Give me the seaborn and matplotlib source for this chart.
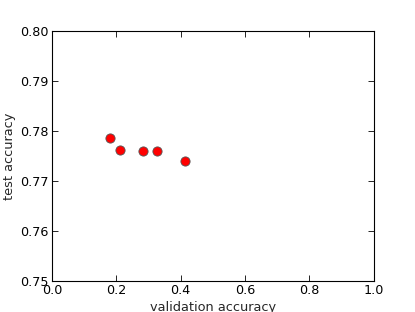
import matplotlib
matplotlib.use("Agg")
import matplotlib.pyplot as plt
import seaborn as sns
import pandas as pd

# Values
val_acc = [0.180, 0.211, 0.282, 0.328, 0.415]
test_acc = [0.7787, 0.7763, 0.7760, 0.7760, 0.7740]

df = pd.DataFrame({"validation accuracy": val_acc, "test accuracy": test_acc})

sns.set_style("white")
plt.rcParams["font.family"] = ["DejaVu Sans"]

fig = plt.figure(figsize=(4.15, 3.12), dpi=100)
ax = fig.add_axes([0.125, 0.1, 0.775, 0.8])

sns.scatterplot(data=df, x="validation accuracy", y="test accuracy", ax=ax,
                color="red", edgecolor="#555555", linewidth=0.6, s=44, zorder=3)

ax.set_xlim(0, 1)
ax.set_ylim(0.75, 0.80)
ax.set_xticks([0.0, 0.2, 0.4, 0.6, 0.8, 1.0])
ax.set_yticks([0.75, 0.76, 0.77, 0.78, 0.79, 0.80])
ax.set_xticklabels(["0.0", "0.2", "0.4", "0.6", "0.8", "1.0"])
ax.set_yticklabels(["0.75", "0.76", "0.77", "0.78", "0.79", "0.80"])
ax.tick_params(direction="in", length=4, width=0.6, top=True, right=True,
               bottom=True, left=True, labelsize=9.2, pad=2.2, colors="black")
for sp in ax.spines.values():
    sp.set_color("black")
    sp.set_linewidth(0.8)
ax.set_xlabel("validation accuracy", fontsize=9.3, labelpad=3)
ax.set_ylabel("test accuracy", fontsize=9.3, labelpad=3)

fig.savefig("out.png", dpi=100)
